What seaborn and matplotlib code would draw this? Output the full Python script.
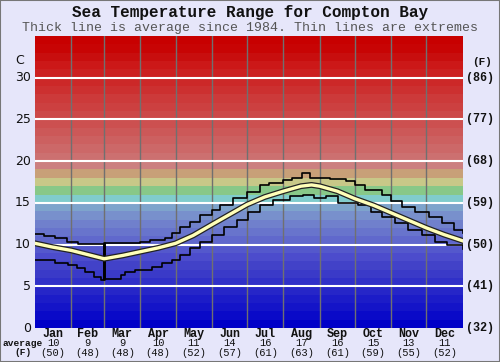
import numpy as np
import pandas as pd
import seaborn as sns
import matplotlib.pyplot as plt
from matplotlib.patches import Rectangle

# dados (dia do ano, graus C)
avg_day = [0, 15, 31, 45, 59, 75, 90, 105, 120, 135, 151, 166, 181, 196, 212,
           227, 236, 243, 258, 273, 289, 304, 319, 334, 349, 365]
avg_temp = [10.15, 9.7, 9.3, 8.8, 8.3, 8.7, 9.15, 9.6, 10.15, 11.1, 12.4, 13.6, 14.8,
            15.7, 16.4, 17.0, 17.15, 17.0, 16.4, 15.5, 14.7, 13.8, 12.9, 12.0, 11.2, 10.45]

max_day = [0, 8, 17, 27, 37, 59, 60, 90, 98, 111, 117, 124, 132, 141, 151, 158, 169,
           181, 192, 200, 212, 219, 228, 235, 252, 265, 273, 282, 296, 304, 313, 324,
           336, 347, 358, 365]
max_temp = [11.25, 11.04, 10.76, 10.36, 10.05, 5.8, 10.16, 10.36, 10.56, 10.76, 11.36,
            12.16, 12.76, 13.56, 14.16, 14.76, 15.57, 16.36, 17.17, 17.44, 17.77, 17.97,
            18.57, 17.97, 17.85, 17.57, 17.17, 16.57, 15.97, 15.17, 14.56, 13.96, 13.36,
            12.56, 11.76, 11.36]

min_day = [0, 17, 28, 36, 43, 50, 56, 59, 60, 73, 77, 85, 100, 108, 117, 124, 132, 141,
           151, 161, 172, 182, 192, 203, 218, 229, 238, 248, 259, 276, 287, 296, 307,
           318, 330, 341, 352, 365]
min_temp = [8.16, 7.84, 7.56, 7.16, 6.76, 6.16, 5.76, 10.2, 5.84, 6.36, 6.76, 6.96, 7.36,
            7.76, 8.16, 8.76, 9.56, 10.36, 11.16, 12.16, 12.96, 13.96, 14.76, 15.36,
            15.85, 15.97, 15.57, 15.77, 14.97, 14.76, 13.96, 13.36, 12.56, 11.76, 11.16,
            10.36, 9.96, 9.48]

meses = ["Jan", "Feb", "Mar", "Apr", "May", "Jun", "Jul", "Aug", "Sep", "Oct", "Nov", "Dec"]
media_c = [10, 9, 9, 10, 11, 14, 16, 17, 16, 15, 13, 11]
media_f = [50, 48, 48, 48, 52, 57, 61, 63, 61, 59, 55, 52]
dias_mes = [31, 28, 31, 30, 31, 30, 31, 31, 30, 31, 30, 31]
ticks_c = [0, 5, 10, 15, 20, 25, 30]
ticks_f = [32, 41, 50, 59, 68, 77, 86]

# cores das faixas de 1 grau (0 -> 35)
cores = ["#0000c8", "#0a0ac8", "#1414c8", "#1c1cc8", "#2626c8", "#3030c8", "#3a3ac8",
         "#4242c8", "#4c4ccc", "#5458cc", "#6068cc", "#6874cc", "#7080cc", "#7890cc",
         "#7ea4cc", "#80cccc", "#88c888", "#c8c888", "#c8a078", "#cc8080", "#cc7070",
         "#cc6868", "#cc6060", "#cc5858", "#cc5050", "#cc4848", "#cc4040", "#cc3a3a",
         "#cc3030", "#cc2828", "#cc2020", "#cc1818", "#c80e0e", "#c80404", "#c80000"]

fundo = "#e6e6fa"
mono = "Liberation Mono"

fig = plt.figure(figsize=(5, 3.62), dpi=100, facecolor=fundo)
ax = fig.add_axes([0.07, 0.0939, 0.8554, 0.8066])
ax.set_xlim(0, 365)
ax.set_ylim(0, 35)

for i, c in enumerate(cores):
    ax.axhspan(i, i + 1, color=c, lw=0, zorder=0)

limites = np.cumsum(dias_mes)[:-1]
for d in limites:
    ax.axvline(d, color="#707070", lw=1, zorder=1)
for t in ticks_c[1:]:
    ax.axhline(t, color="white", lw=1.5, zorder=2)

df_max = pd.DataFrame({"dia": max_day, "temp": max_temp})
df_min = pd.DataFrame({"dia": min_day, "temp": min_temp})
df_avg = pd.DataFrame({"dia": avg_day, "temp": avg_temp})

sns.lineplot(data=df_max, x="dia", y="temp", color="black", lw=1.2,
             drawstyle="steps-post", ax=ax, zorder=3)
sns.lineplot(data=df_min, x="dia", y="temp", color="black", lw=1.2,
             drawstyle="steps-post", ax=ax, zorder=3)
sns.lineplot(data=df_avg, x="dia", y="temp", color="#222222", lw=4.2, ax=ax, zorder=4)
sns.lineplot(data=df_avg, x="dia", y="temp", color="#ffffb8", lw=2.4, ax=ax, zorder=5)

ax.set_xlabel("")
ax.set_ylabel("")
ax.set_xticks([])
ax.set_yticks([])
for s in ax.spines.values():
    s.set_visible(False)

# eixo esquerdo (C) e direito (F)
for c, f in zip(ticks_c, ticks_f):
    ax.text(-3.5, c, str(c), ha="right", va="center", fontsize=9, color="#111111",
            family="DejaVu Sans")
    ax.text(368, c, f"({f})", ha="left", va="center", fontsize=8.5, color="#111111",
            family=mono, weight="bold")
ax.text(-9, 32.1, "C", ha="right", va="center", fontsize=9, color="#111111",
        family="DejaVu Sans")
ax.text(373, 31.9, "(F)", ha="left", va="center", fontsize=8, color="#111111",
        family=mono, weight="bold")

# rotulos dos meses embaixo
meio = np.cumsum(dias_mes) - np.array(dias_mes) / 2
for m, x, c, f in zip(meses, meio, media_c, media_f):
    fig.text(0.07 + 0.8554 * x / 365, 1 - 334 / 362, m, ha="center", va="center",
             fontsize=8.5, family=mono, weight="bold", color="#111111")
    fig.text(0.07 + 0.8554 * x / 365, 1 - 343.5 / 362, str(c), ha="center", va="center",
             fontsize=7.5, family=mono, color="#111111")
    fig.text(0.07 + 0.8554 * x / 365, 1 - 352.5 / 362, f"({f})", ha="center",
             va="center", fontsize=7.5, family=mono, color="#111111")
fig.text(23 / 500, 1 - 343.5 / 362, "average", ha="center", va="center", fontsize=6.8,
         family=mono, weight="bold", color="#111111")
fig.text(23 / 500, 1 - 352.5 / 362, "(F)", ha="center", va="center", fontsize=6.8,
         family=mono, weight="bold", color="#111111")

fig.text(0.5, 1 - 13 / 362, "Sea Temperature Range for Compton Bay", ha="center",
         va="center", fontsize=11.5, family=mono, weight="bold", color="#111111")
fig.text(0.5, 1 - 28 / 362, "Thick line is average since 1984. Thin lines are extremes",
         ha="center", va="center", fontsize=9.5, family=mono, color="#555555")

fig.patches.append(Rectangle((0, 0), 1, 1, transform=fig.transFigure, fill=False,
                             edgecolor="#777777", lw=1.5))

fig.savefig("out.png", dpi=100, facecolor=fundo)
